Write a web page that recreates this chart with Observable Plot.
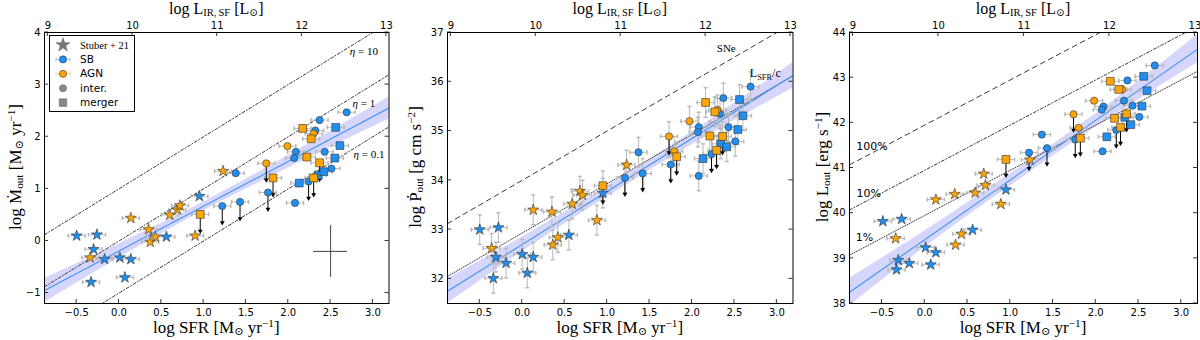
<!DOCTYPE html>
<html><head><meta charset="utf-8">
<script src="https://cdn.jsdelivr.net/npm/d3@7"></script>
<script src="https://cdn.jsdelivr.net/npm/@observablehq/plot@0.6"></script>
<style>
body{margin:0;background:#fff;}
#root{position:relative;width:1200px;height:340px;overflow:hidden;background:#fff;}
#root svg.pan{position:absolute;top:0;}
.t{position:absolute;font-family:"Liberation Serif","DejaVu Serif",serif;font-size:17px;white-space:nowrap;color:#000;line-height:1;transform:translate(-50%,-50%);}
.t.top{font-size:16px;}
.t.rot{transform:translate(-50%,-50%) rotate(-90deg);}
.t sub{font-size:66%;vertical-align:-0.22em;line-height:0;}
.t sup{font-size:66%;vertical-align:0.5em;line-height:0;}
</style></head>
<body><div id="root"></div>
<script>
// ---------------- data ----------------
const SFR_TICKS = [-0.5, 0, 0.5, 1, 1.5, 2, 2.5, 3];
const LIR_TICKS = [9, 10, 11, 12, 13];
const LIR_OFFSET = 9.84;           // log L_IR,SF - log SFR
const ERR_SFR = 0.1;               // x error (dex)
const ERR_PDOT = 0.3;              // y error in momentum panel

// Panel 1: mass outflow rate  [sfr, value, upperLimit]
const mdotSbStars  = [[-0.50,0.10],[-0.26,0.12],[-0.30,-0.16],[-0.17,-0.35],[0.01,-0.32],[0.14,-0.35],[0.07,-0.70],[-0.33,-0.79],[0.56,0.08],[0.95,0.86]];
const mdotAgnStars = [[-0.34,-0.32],[0.14,0.44],[0.35,0.22],[0.37,-0.02],[0.43,0.08],[0.60,0.50],[0.69,0.60],[0.72,0.68],[0.90,0.10],[1.23,1.34]];
const mdotSbCirc   = [[1.22,0.67,1],[1.38,1.30],[1.43,0.75,1],[1.76,0.93,1],[2.09,1.71],[2.07,1.59],[2.08,0.73],[2.37,2.32],[2.32,2.12],[2.43,1.71],[2.51,1.39],[2.24,1.14,1],[2.69,2.47]];
const mdotAgnCirc  = [[1.74,1.49,1],[1.99,1.82],[2.30,2.06]];
const mdotSbSq     = [[2.13,1.11],[2.35,1.26],[2.42,1.33],[2.55,1.59],[2.56,2.18],[2.61,1.83]];
const mdotAgnSq    = [[0.96,0.51,1],[1.82,1.21,1],[2.17,2.16],[2.22,1.61],[2.27,1.96],[2.30,1.21,1],[2.37,1.50,1]];
const mdotFit  = [[-0.88,-0.95],[3.19,2.55]];
const mdotBand = [[-0.88,-1.18,-0.72],[0.2,-0.14,0.10],[1.0,0.58,0.75],[2.0,1.40,1.64],[3.19,2.34,2.76]];
const ETA = [10, 1, 0.1];
const mdotTypErr = [2.5, -0.2, 0.2, 0.5];   // x, y, xerr, yerr

// Panel 2: momentum rate
const pdotSbStars  = [[-0.50,33.00],[-0.28,33.04],[-0.31,32.44],[-0.19,32.32],[-0.34,32.01],[0.00,32.50],[0.13,32.44],[0.06,32.12],[0.55,32.89],[0.95,33.74]];
const pdotAgnStars = [[-0.36,32.62],[0.13,33.40],[0.35,33.36],[0.36,32.69],[0.42,32.84],[0.59,33.52],[0.68,33.78],[0.71,33.70],[0.88,33.19],[1.23,34.31]];
const pdotSbCirc   = [[1.21,34.05,1],[1.37,34.57],[1.42,34.14,1],[1.75,34.32,1],[2.08,34.09],[2.08,35.08],[2.07,34.98],[2.23,34.53,1],[2.33,35.35],[2.37,35.67],[2.43,35.08],[2.51,34.79],[2.69,35.90]];
const pdotAgnCirc  = [[1.73,34.89,1],[1.79,34.59],[1.97,35.20],[2.30,35.43]];
const pdotSbSq     = [[2.13,34.44],[2.34,34.74],[2.41,34.68],[2.54,35.03],[2.56,35.64],[2.60,35.31]];
const pdotAgnSq    = [[0.95,33.89,1],[1.82,34.48,1],[2.16,35.58],[2.21,34.90],[2.27,35.39],[2.29,34.61,1],[2.36,34.89,1]];
const pdotFit  = [[-0.88,31.75],[3.19,36.13]];
const pdotBand = [[-0.88,31.50,32.00],[0.2,32.78,33.05],[1.0,33.66,33.88],[2.0,34.72,34.98],[3.19,35.87,36.39]];
const SNE_OFFSET = 34.0;
const RAD_OFFSET = 32.93;

// Panel 3: kinetic power
const loutSbStars  = [[-0.49,39.82],[-0.27,39.87],[-0.31,38.96],[-0.33,38.75],[-0.18,38.89],[0.01,39.24],[0.13,39.13],[0.07,38.86],[0.56,39.63],[0.95,40.52]];
const loutAgnStars = [[-0.34,39.44],[0.13,40.30],[0.35,40.42],[0.36,39.30],[0.43,39.54],[0.59,40.45],[0.69,40.87],[0.71,40.62],[0.89,40.20],[1.23,41.18]];
const loutSbCirc   = [[1.22,41.34,1],[1.37,41.74],[1.43,41.44,1],[1.76,41.63,1],[2.08,41.37],[2.09,42.36],[2.07,42.29],[2.24,41.84,1],[2.37,42.94],[2.33,42.49],[2.43,42.38],[2.51,42.13],[2.69,43.27]];
const loutAgnCirc  = [[1.74,42.19,1],[1.80,41.89],[1.98,42.49],[2.31,42.74]];
const loutSbSq     = [[2.13,41.69],[2.34,42.12],[2.41,41.96],[2.54,42.37],[2.56,43.03],[2.60,42.71]];
const loutAgnSq    = [[0.95,41.19,1],[1.82,41.66,1],[2.17,42.92],[2.22,42.10],[2.27,42.74],[2.29,41.90,1],[2.36,42.20,1]];
const loutFit  = [[-0.88,38.25],[3.19,43.63]];
const loutBand = [[-0.88,37.95,38.56],[0.2,39.52,39.85],[1.0,40.60,40.87],[2.0,41.90,42.20],[3.19,43.33,43.95]];
const PCT = [100, 10, 1];
const PCT100_OFFSET = 41.95;

// ---------------- drawing ----------------
const BLUE = "#1f8ff2", ORANGE = "#ffa500", EDGE = "#333";
const X_DOMAIN = [-0.88, 3.19];
const root = document.getElementById("root");

const capV = {draw(ctx, size){const r = Math.sqrt(size/Math.PI); ctx.moveTo(0,-r); ctx.lineTo(0,r);}};
const capH = {draw(ctx, size){const r = Math.sqrt(size/Math.PI); ctx.moveTo(-r,0); ctx.lineTo(r,0);}};

function rowsOf(groups){
  const rows = [];
  for (const [arr, cls, shape] of groups) for (const p of arr) rows.push({x:p[0], y:p[1], lim:!!p[2], cls, shape});
  return rows;
}

function panel(cfg){
  const rows = rowsOf(cfg.groups);
  const lims = rows.filter(d => d.lim);
  const fillOf = d => d.cls === "SB" ? BLUE : ORANGE;
  const [xmin, xmax] = X_DOMAIN;
  const refMarks = cfg.refs.map(r => Plot.line([[xmin, xmin + r.off], [xmax, xmax + r.off]],
    {x: d => d[0], y: d => d[1], stroke: "#222", strokeWidth: 0.9, strokeDasharray: r.dash, clip: true}));
  const ecol = "#b9b9b9";
  const marks = [
    Plot.areaY(cfg.band, {x: d => d[0], y1: d => d[1], y2: d => d[2], fill: "#3333ee", fillOpacity: 0.2, curve: "monotone-x", clip: true}),
    ...refMarks,
    Plot.line(cfg.fit, {x: d => d[0], y: d => d[1], stroke: "#3e95f5", strokeWidth: 1.1, clip: true}),
    Plot.ruleY(rows, {y: "y", x1: d => d.x - ERR_SFR, x2: d => d.x + ERR_SFR, stroke: ecol, strokeWidth: 1}),
    Plot.dot(rows, {x: d => d.x - ERR_SFR, y: "y", symbol: capV, r: 2, stroke: ecol, fill: "none"}),
    Plot.dot(rows, {x: d => d.x + ERR_SFR, y: "y", symbol: capV, r: 2, stroke: ecol, fill: "none"})
  ];
  if (cfg.yErr) {
    marks.push(
      Plot.ruleX(rows, {x: "x", y1: d => d.y - cfg.yErr, y2: d => d.y + cfg.yErr, stroke: ecol, strokeWidth: 1}),
      Plot.dot(rows, {x: "x", y: d => d.y - cfg.yErr, symbol: capH, r: 2, stroke: ecol, fill: "none"}),
      Plot.dot(rows, {x: "x", y: d => d.y + cfg.yErr, symbol: capH, r: 2, stroke: ecol, fill: "none"})
    );
  }
  marks.push(
    Plot.ruleX(lims, {x: "x", y1: "y", y2: d => d.y - cfg.arrow, stroke: "#000", strokeWidth: 1}),
    Plot.dot(lims, {x: "x", y: d => d.y - cfg.arrow, symbol: "triangle", rotate: 180, r: 1.8, fill: "#000", stroke: "none"}),
    Plot.dot(rows.filter(d => d.shape === "star"), {x: "x", y: "y", symbol: "star", r: 3.5, fill: fillOf, stroke: EDGE, strokeWidth: 0.6}),
    Plot.dot(rows.filter(d => d.shape === "circle"), {x: "x", y: "y", symbol: "circle", r: 3.6, fill: fillOf, stroke: EDGE, strokeWidth: 0.6}),
    Plot.dot(rows.filter(d => d.shape === "square"), {x: "x", y: "y", symbol: "square", r: 4.4, fill: fillOf, stroke: EDGE, strokeWidth: 0.6})
  );
  if (cfg.extra) marks.push(...cfg.extra);
  marks.push(
    Plot.axisX({ticks: SFR_TICKS, tickFormat: d3.format(".1f"), tickSize: 0, tickPadding: 5, label: null}),
    Plot.axisX({anchor: "top", ticks: LIR_TICKS.map(v => v - LIR_OFFSET), tickFormat: d => String(Math.round(d + LIR_OFFSET)), tickSize: 0, tickPadding: 4, label: null}),
    Plot.axisY({ticks: cfg.yTicks, tickFormat: d => d3.format("d")(d), tickSize: 0, tickPadding: 4, label: null}),
    Plot.frame({stroke: "#000", strokeWidth: 1})
  );
  const plot = Plot.plot({
    width: 400, height: 340,
    marginTop: 32, marginBottom: 37, marginLeft: cfg.ml, marginRight: cfg.mr,
    x: {domain: X_DOMAIN},
    y: {domain: cfg.yDomain},
    color: {type: "identity"},
    style: {fontFamily: "'DejaVu Sans', sans-serif", fontSize: "10px", background: "transparent", color: "#000", overflow: "visible"},
    marks
  });
  plot.classList.add("pan");
  plot.style.left = cfg.left + "px";
  root.appendChild(plot);

  // inward ticks on all four sides
  const sx = plot.scale("x"), sy = plot.scale("y");
  const L = cfg.ml, R = 400 - cfg.mr, T = 32, B = 340 - 37, tl = 4;
  const g = d3.select(plot).append("g").attr("stroke", "#000").attr("stroke-width", 0.8);
  for (const v of SFR_TICKS) { const X = sx.apply(v); g.append("line").attr("x1", X).attr("x2", X).attr("y1", B).attr("y2", B - tl); }
  for (const v of LIR_TICKS) { const X = sx.apply(v - LIR_OFFSET); g.append("line").attr("x1", X).attr("x2", X).attr("y1", T).attr("y2", T + tl); }
  for (const v of cfg.yTicks) { const Y = sy.apply(v);
    g.append("line").attr("x1", L).attr("x2", L + tl).attr("y1", Y).attr("y2", Y);
    g.append("line").attr("x1", R).attr("x2", R - tl).attr("y1", Y).attr("y2", Y); }

  // annotations
  for (const a of cfg.notes) {
    const t = d3.select(plot).append("text").attr("x", sx.apply(a.x)).attr("y", sy.apply(a.y))
      .attr("text-anchor", "middle").attr("dy", "0.35em")
      .attr("font-family", a.serif ? "'Liberation Serif', 'DejaVu Serif', serif" : "'DejaVu Sans', sans-serif")
      .attr("font-size", a.size || 11).attr("fill", "#000");
    for (const p of a.parts) {
      const s = t.append("tspan").text(p.t);
      if (p.it) s.attr("font-style", "italic");
      if (p.sub) s.attr("font-size", (a.size || 11) * 0.7).attr("dy", 3);
      if (p.after) s.attr("dy", -3);
    }
  }
  // titles
  const cx = cfg.left + (L + R) / 2;
  addHTML(`log L<sub>IR,&thinsp;SF</sub> [L<sub>⊙</sub>]`, cx, 9, false, "top");
  addHTML(`log SFR [M<sub>⊙</sub> yr<sup>−1</sup>]`, cx, 327);
  addHTML(cfg.ytitle, cfg.left + cfg.ytx, 167, true);
  return plot;
}

function addHTML(html, x, y, rot, extra){
  const d = document.createElement("div");
  d.className = "t" + (rot ? " rot" : "") + (extra ? " " + extra : "");
  d.innerHTML = html;
  d.style.left = x + "px"; d.style.top = y + "px";
  root.appendChild(d);
}

// Panel 1
panel({
  left: 0, ml: 44, mr: 11.5, yDomain: [-1.2, 4], yTicks: [-1, 0, 1, 2, 3, 4], arrow: 0.32, ytx: 15,
  ytitle: `log Ṁ<sub>out</sub> [M<sub>⊙</sub> yr<sup>−1</sup>]`,
  groups: [[mdotSbStars,"SB","star"],[mdotAgnStars,"AGN","star"],[mdotSbCirc,"SB","circle"],[mdotAgnCirc,"AGN","circle"],[mdotSbSq,"SB","square"],[mdotAgnSq,"AGN","square"]],
  fit: mdotFit, band: mdotBand,
  refs: ETA.map(e => ({off: Math.log10(e), dash: "3,2,1,2"})),
  extra: [
    Plot.ruleY([mdotTypErr], {y: d => d[1], x1: d => d[0] - d[2], x2: d => d[0] + d[2], stroke: "#444", strokeWidth: 1}),
    Plot.ruleX([mdotTypErr], {x: d => d[0], y1: d => d[1] - d[3], y2: d => d[1] + d[3], stroke: "#444", strokeWidth: 1})
  ],
  notes: [
    {x: 2.9, y: 3.63, serif: true, parts: [{t: "η", it: true}, {t: " = 10"}]},
    {x: 2.9, y: 2.63, serif: true, parts: [{t: "η", it: true}, {t: " = 1"}]},
    {x: 2.96, y: 1.65, serif: true, parts: [{t: "η", it: true}, {t: " = 0.1"}]}
  ]
});

// Panel 2
panel({
  left: 400, ml: 47, mr: 7.5, yDomain: [31.5, 37], yTicks: [32, 33, 34, 35, 36, 37], arrow: 0.33, ytx: 15, yErr: ERR_PDOT,
  ytitle: `log Ṗ<sub>out</sub> [g cm s<sup>−2</sup>]`,
  groups: [[pdotSbStars,"SB","star"],[pdotAgnStars,"AGN","star"],[pdotSbCirc,"SB","circle"],[pdotAgnCirc,"AGN","circle"],[pdotSbSq,"SB","square"],[pdotAgnSq,"AGN","square"]],
  fit: pdotFit, band: pdotBand,
  refs: [{off: SNE_OFFSET, dash: "5,4"}, {off: RAD_OFFSET, dash: "1,1.6"}],
  notes: [
    {x: 2.41, y: 36.68, serif: true, parts: [{t: "SNe"}]},
    {x: 2.87, y: 36.17, serif: true, size: 12, parts: [{t: "L"}, {t: "SFR", sub: true}, {t: "/c", after: true}]}
  ]
});

// Panel 3
panel({
  left: 800, ml: 49, mr: 3, yDomain: [38, 44], yTicks: [38, 39, 40, 41, 42, 43, 44], arrow: 0.35, ytx: 22,
  ytitle: `log L<sub>out</sub> [erg s<sup>−1</sup>]`,
  groups: [[loutSbStars,"SB","star"],[loutAgnStars,"AGN","star"],[loutSbCirc,"SB","circle"],[loutAgnCirc,"AGN","circle"],[loutSbSq,"SB","square"],[loutAgnSq,"AGN","square"]],
  fit: loutFit, band: loutBand,
  refs: PCT.map((p, i) => ({off: PCT100_OFFSET + Math.log10(p / 100), dash: ["5,4", "3,2,1,2", "1,1.6"][i]})),
  notes: [
    {x: -0.61, y: 41.47, parts: [{t: "100%"}]},
    {x: -0.65, y: 40.44, parts: [{t: "10%"}]},
    {x: -0.70, y: 39.46, parts: [{t: "1%"}]}
  ]
});

// Legend (panel 1)
const LEG = [
  {label: "Stuber + 21", sym: d3.symbolStar, fill: "#777", size: 60, serif: true},
  {label: "SB", sym: d3.symbolCircle, fill: BLUE, size: 40, bar: true},
  {label: "AGN", sym: d3.symbolCircle, fill: ORANGE, size: 40, bar: true},
  {label: "inter.", sym: d3.symbolCircle, fill: "#888", size: 40},
  {label: "merger", sym: d3.symbolSquare, fill: "#888", size: 56}
];
const lg = d3.select(root).append("svg").attr("width", 87).attr("height", 78)
  .style("position", "absolute").style("left", "49px").style("top", "35px");
lg.append("rect").attr("x", 0.5).attr("y", 0.5).attr("width", 85).attr("height", 76).attr("fill", "#fff").attr("stroke", "#000");
LEG.forEach((e, i) => {
  const y = 10 + i * 14.4;
  if (e.bar) {
    lg.append("line").attr("x1", 7).attr("x2", 21).attr("y1", y).attr("y2", y).attr("stroke", e.fill).attr("stroke-opacity", 0.45);
    lg.append("line").attr("x1", 7).attr("x2", 7).attr("y1", y - 2).attr("y2", y + 2).attr("stroke", e.fill).attr("stroke-opacity", 0.45);
    lg.append("line").attr("x1", 21).attr("x2", 21).attr("y1", y - 2).attr("y2", y + 2).attr("stroke", e.fill).attr("stroke-opacity", 0.45);
  }
  lg.append("path").attr("d", d3.symbol(e.sym, e.size)()).attr("transform", `translate(14,${y})`)
    .attr("fill", e.fill).attr("stroke", e.bar ? EDGE : "#666").attr("stroke-width", 0.6);
  lg.append("text").attr("x", 31).attr("y", y).attr("dy", "0.35em").text(e.label)
    .attr("font-family", e.serif ? "'Liberation Serif', serif" : "'DejaVu Sans', sans-serif")
    .attr("font-size", 10.5);
});
</script>
</body></html>
